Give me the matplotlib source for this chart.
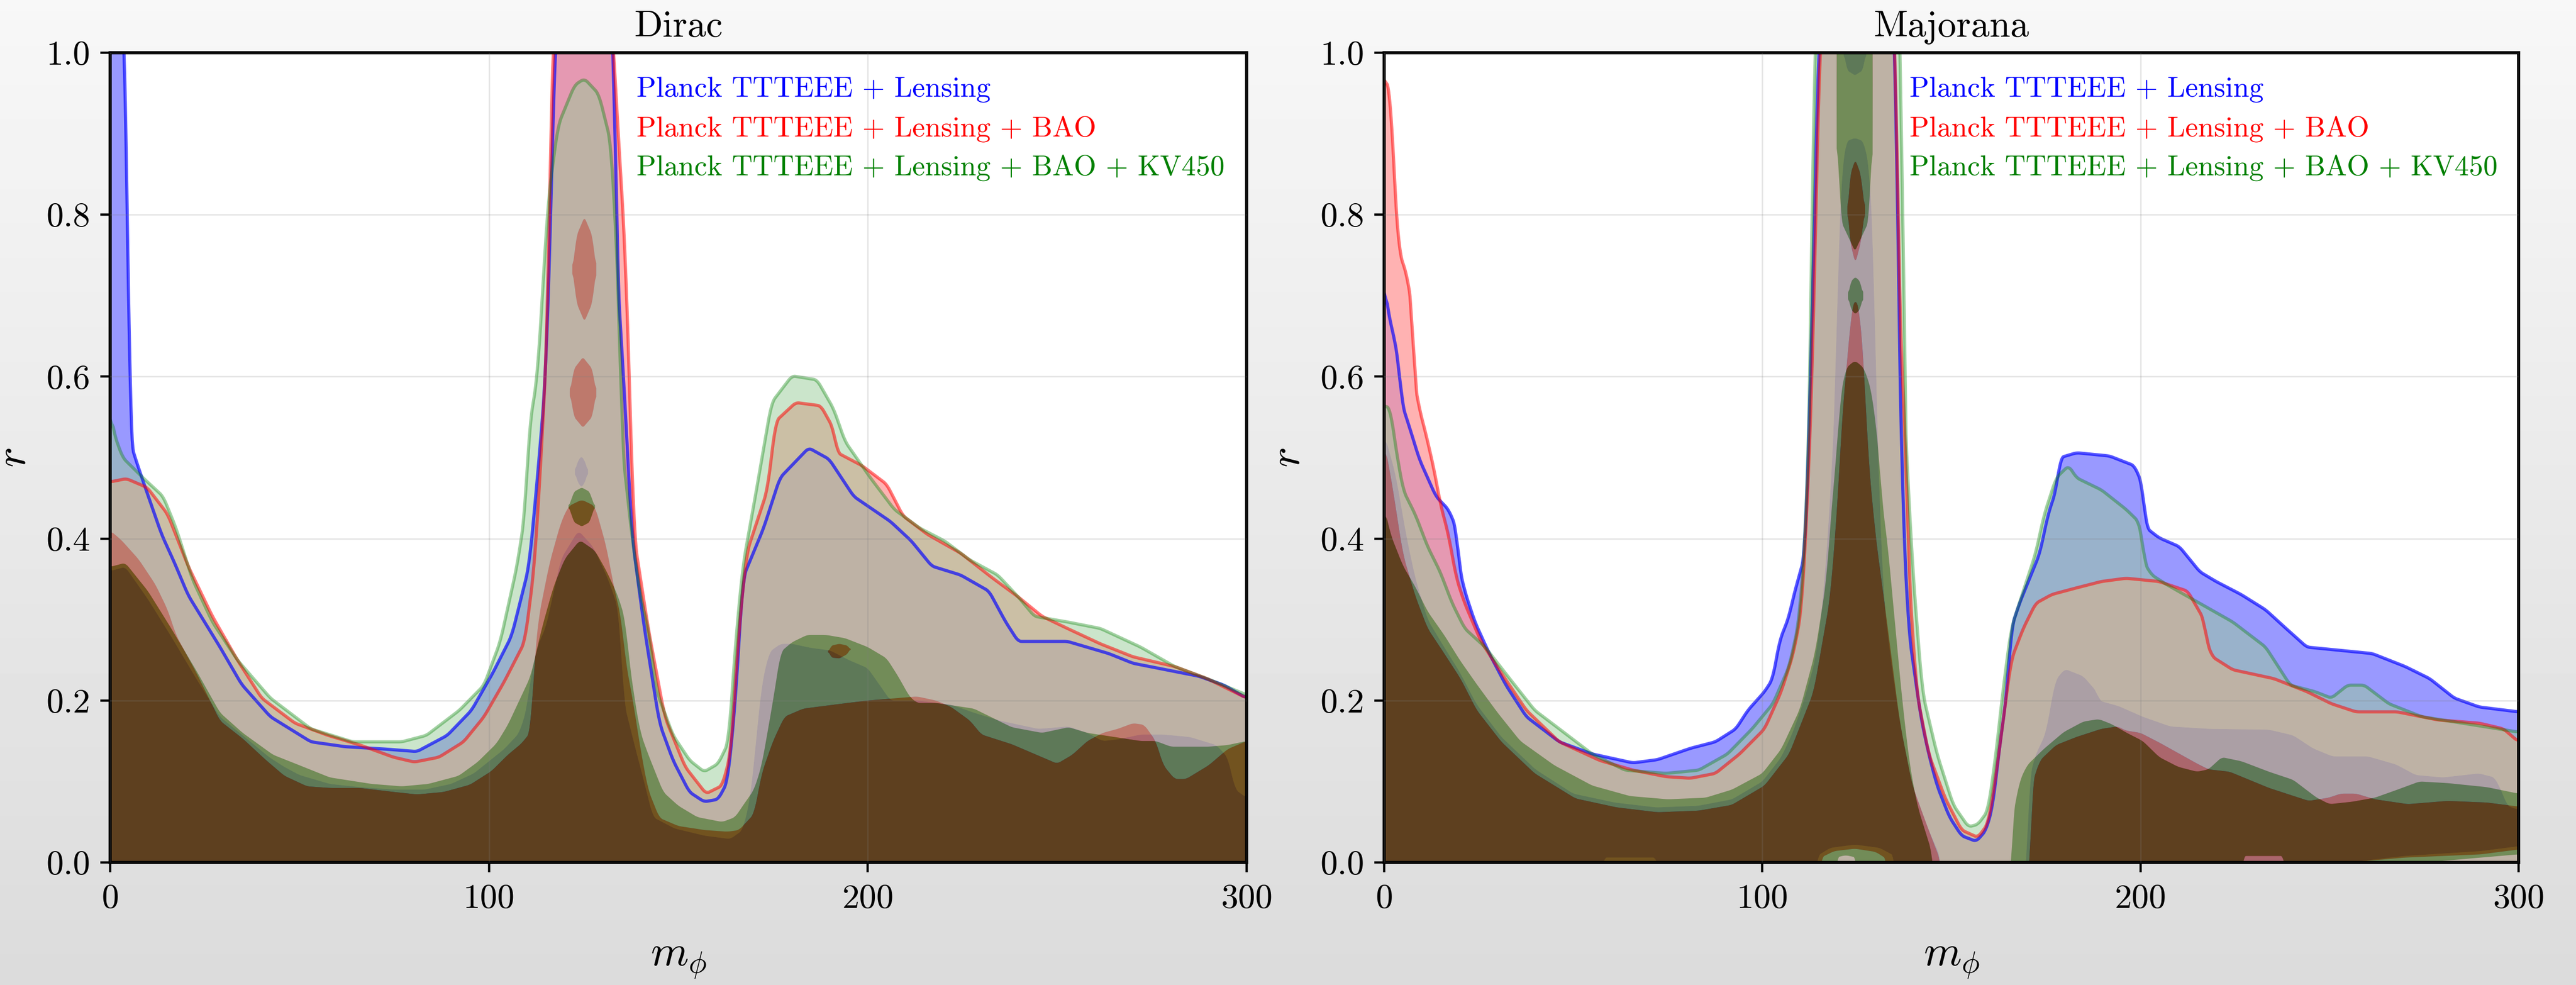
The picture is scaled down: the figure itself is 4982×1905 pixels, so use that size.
import numpy as np
import matplotlib.pyplot as plt

plt.rcParams['font.family'] = 'serif'
plt.rcParams['font.serif'] = ['cmr10']
plt.rcParams['mathtext.fontset'] = 'cm'
plt.rcParams['axes.unicode_minus'] = False

# ---------------- data ----------------
# every curve is a list of (m_phi, r) points; 2s = outer contour, 1s = inner contour
labels = ['Planck TTTEEE + Lensing',
          'Planck TTTEEE + Lensing + BAO',
          'Planck TTTEEE + Lensing + BAO + KV450']

# Dirac
dirac_blue_2s = [(0, 1.05), (3.8, 1.05), (4.6, 0.8), (5.0, 0.6), (5.3, 0.52), (6.8, 0.497), (9.5, 0.46),
                 (13.6, 0.405), (17, 0.37), (20.6, 0.33), (29, 0.266), (34.7, 0.22), (42.3, 0.18), (53, 0.149),
                 (62, 0.143), (72.7, 0.14), (81, 0.137), (89, 0.157), (95.4, 0.188), (101, 0.234), (106, 0.28),
                 (110.6, 0.366), (112.8, 0.475), (113.9, 0.537), (115, 0.6), (116.5, 0.83), (117.6, 1.05),
                 (133, 1.05), (133.6, 0.75), (136, 0.56), (137.7, 0.405), (141, 0.29), (145, 0.172), (148.6, 0.126),
                 (152.9, 0.087), (156.8, 0.075), (160.5, 0.078), (163, 0.1), (165, 0.196), (167, 0.351),
                 (172.5, 0.413), (176.8, 0.475), (184.4, 0.512), (189.8, 0.498), (196.3, 0.452), (206, 0.421),
                 (211.5, 0.397), (216.9, 0.366), (224.5, 0.355), (232, 0.335), (236.4, 0.297), (239.7, 0.273),
                 (252.7, 0.273), (263.6, 0.258), (270, 0.246), (278.7, 0.238), (287.4, 0.23), (294, 0.219),
                 (300, 0.203)]
dirac_red_2s = [(0, 0.47), (4.3, 0.474), (9.8, 0.463), (15.2, 0.43), (20.6, 0.366), (27, 0.304), (33.6, 0.25),
                (40, 0.203), (48.8, 0.172), (57.5, 0.157), (66, 0.145), (74.8, 0.13), (80.3, 0.124), (86.8, 0.13),
                (93.3, 0.149), (98.7, 0.18), (104, 0.223), (109.5, 0.273), (112, 0.366), (114, 0.52),
                (115.6, 0.677), (116, 0.83), (117, 1.05), (132.3, 1.05), (134.5, 0.87), (136, 0.755),
                (137.3, 0.56), (138.2, 0.405), (142, 0.29), (146.4, 0.18), (151.8, 0.118), (157.3, 0.085),
                (161.6, 0.095), (163.8, 0.134), (166, 0.289), (168, 0.382), (173.5, 0.46), (175.7, 0.545),
                (181, 0.568), (187.6, 0.564), (190.8, 0.537), (192, 0.506), (198.5, 0.49), (205, 0.467),
                (209.3, 0.428), (215.8, 0.405), (224.5, 0.382), (233, 0.351), (239.7, 0.328), (246, 0.304),
                (252.7, 0.289), (261.4, 0.27), (270, 0.254), (281, 0.242), (289.6, 0.227), (300, 0.203)]
dirac_green_2s = [(0, 0.56), (1, 0.53), (3.3, 0.5), (8.7, 0.475), (14, 0.452), (17.4, 0.413), (21.7, 0.35),
                  (27, 0.297), (33.6, 0.25), (42.3, 0.203), (53, 0.165), (64, 0.149), (77, 0.149), (83.5, 0.157),
                  (92.2, 0.188), (98.7, 0.219), (103, 0.273), (107.4, 0.366), (109.5, 0.43), (110.6, 0.537),
                  (112.8, 0.6), (114, 0.693), (115.6, 0.817), (118.2, 0.91), (122.6, 0.96), (125.2, 0.968),
                  (129, 0.949), (132.3, 0.887), (134.5, 0.677), (135, 0.52), (137.7, 0.405), (140, 0.328),
                  (142, 0.29), (144.3, 0.211), (148.6, 0.157), (153, 0.126), (156.8, 0.112), (160.5, 0.122),
                  (163.3, 0.149), (165, 0.266), (167, 0.366), (170.3, 0.452), (174.6, 0.568), (180, 0.601),
                  (186.6, 0.596), (191, 0.56), (194, 0.52), (200.7, 0.475), (207, 0.436), (213.7, 0.413),
                  (220.3, 0.397), (226.8, 0.374), (234.3, 0.355), (239.7, 0.328), (244, 0.304), (252.7, 0.297),
                  (261.4, 0.289), (272, 0.266), (281, 0.242), (289.6, 0.227), (300, 0.207)]

dirac_blue_1s = [(0, 0.36), (4, 0.365), (10, 0.325), (16, 0.28), (23, 0.225), (29, 0.18), (35, 0.157), (42, 0.13),
                 (46, 0.118), (50, 0.108), (58, 0.097), (66, 0.093), (75, 0.09), (83, 0.09), (90, 0.097), (96, 0.11),
                 (100, 0.125), (104, 0.14), (108, 0.16), (110, 0.19), (111, 0.23), (113, 0.27), (115, 0.29),
                 (119, 0.375), (123.6, 0.41), (127.5, 0.39), (131, 0.355), (133, 0.33), (134.3, 0.31), (135, 0.255),
                 (135.5, 0.2), (138.6, 0.142), (141, 0.099), (143.3, 0.056), (149, 0.042), (157, 0.033),
                 (163.7, 0.029), (167, 0.04), (169, 0.08), (170.5, 0.15), (172, 0.22), (174, 0.26), (177, 0.27),
                 (180, 0.27), (185, 0.265), (190, 0.262), (195, 0.25), (200, 0.24), (203, 0.22), (206, 0.2),
                 (213, 0.2), (222, 0.195), (228, 0.185), (235, 0.175), (245, 0.165), (253, 0.168), (258, 0.16),
                 (262, 0.15), (266, 0.152), (272, 0.158), (278, 0.158), (285, 0.155), (292, 0.145), (295, 0.13),
                 (297, 0.09), (300, 0.08)]
dirac_red_1s = [(0, 0.41), (3, 0.398), (7.6, 0.374), (12, 0.343), (15.2, 0.312), (17.4, 0.281), (22.8, 0.234),
                (29, 0.175), (35, 0.153), (41, 0.127), (46, 0.107), (52, 0.094), (58, 0.092), (66, 0.092),
                (75, 0.087), (81, 0.084), (88, 0.087), (95, 0.096), (100.7, 0.113), (105, 0.133), (108.6, 0.147),
                (111, 0.161), (111.5, 0.2), (112, 0.25), (113, 0.3), (116, 0.37), (119, 0.42), (121, 0.44),
                (124.5, 0.448), (128, 0.44), (131, 0.39), (133, 0.34), (135, 0.3), (136, 0.25), (138, 0.2),
                (140, 0.14), (142, 0.09), (145, 0.055), (150, 0.045), (157, 0.04), (163, 0.038), (166, 0.04),
                (168, 0.05), (170, 0.06), (172, 0.11), (175, 0.15), (178, 0.18), (183, 0.19), (193, 0.196),
                (200, 0.2), (213, 0.205), (218, 0.2), (222, 0.192), (227, 0.175), (230, 0.158), (238, 0.146),
                (246, 0.13), (250, 0.122), (254, 0.133), (258, 0.15), (262, 0.16), (266, 0.165), (270, 0.172),
                (273, 0.17), (276, 0.15), (278, 0.12), (281, 0.103), (284, 0.103), (290, 0.12), (295, 0.14),
                (300, 0.15)]
dirac_green_1s = [(0, 0.365), (4, 0.37), (10, 0.335), (16, 0.29), (23, 0.235), (29, 0.185), (35, 0.16),
                  (43, 0.133), (50, 0.12), (58, 0.105), (69, 0.097), (77, 0.094), (84, 0.097), (92, 0.107),
                  (97, 0.124), (102, 0.147), (105, 0.17), (108, 0.2), (111, 0.23), (114, 0.29), (117, 0.34),
                  (120, 0.375), (124, 0.398), (128, 0.385), (131, 0.36), (134, 0.33), (136, 0.3), (137, 0.25),
                  (138.5, 0.2), (140, 0.16), (142, 0.134), (146, 0.087), (150, 0.07), (155, 0.056), (161.6, 0.05),
                  (165, 0.056), (167, 0.07), (170, 0.09), (172, 0.12), (175, 0.2), (177, 0.26), (180, 0.272),
                  (184, 0.281), (189, 0.281), (194, 0.277), (200, 0.266), (205, 0.252), (208, 0.23), (211, 0.205),
                  (213, 0.197), (218, 0.197), (228, 0.19), (238, 0.167), (246, 0.16), (253, 0.167), (258, 0.16),
                  (265, 0.155), (272, 0.15), (276, 0.15), (280, 0.143), (290, 0.143), (295, 0.145), (300, 0.15)]

# islands: (m_phi, r_low, r_high)
dirac_blue_islands = [[(122.6, 0.483, 0.482), (123.4, 0.47, 0.495), (124.4, 0.463, 0.502), (125.4, 0.47, 0.495),
                       (126.2, 0.483, 0.482)]]
dirac_red_islands = [[(121.3, 0.581, 0.580), (122.5, 0.55, 0.61), (124.8, 0.537, 0.624), (127.2, 0.55, 0.61),
                      (128.4, 0.581, 0.580)],
                     [(122, 0.733, 0.732), (123.2, 0.69, 0.775), (125.2, 0.668, 0.797), (127.2, 0.69, 0.775),
                      (128.4, 0.733, 0.732)],
                     [(189.5, 0.261, 0.260), (190.5, 0.253, 0.268), (192.5, 0.252, 0.270), (194.5, 0.257, 0.268),
                      (195.5, 0.264, 0.263)]]
dirac_green_islands = [[(121, 0.44, 0.439), (122.5, 0.42, 0.458), (124.5, 0.415, 0.463), (126.5, 0.42, 0.458),
                        (128, 0.44, 0.439)]]

# Majorana
major_blue_2s = [(0, 0.72), (1.1, 0.677), (2.4, 0.654), (3.9, 0.615), (4.6, 0.568), (7.2, 0.53), (9.3, 0.498),
                 (11.5, 0.475), (13.7, 0.452), (17, 0.436), (19.1, 0.413), (19.8, 0.366), (21.3, 0.335),
                 (24, 0.297), (27.8, 0.258), (32.2, 0.219), (37.6, 0.18), (46.3, 0.149), (55, 0.134),
                 (65.8, 0.123), (72.3, 0.127), (81, 0.141), (87.6, 0.149), (93, 0.165), (96.2, 0.188),
                 (100.6, 0.211), (102.8, 0.227), (104.5, 0.273), (107.1, 0.304), (108.2, 0.328), (111.4, 0.382),
                 (113, 0.646), (114, 0.832), (115, 1.05), (135.3, 1.05), (135.8, 0.739), (136.4, 0.6),
                 (137.1, 0.444), (138.6, 0.289), (141.9, 0.18), (144, 0.134), (146.2, 0.095), (149.5, 0.056),
                 (152.7, 0.033), (156.6, 0.026), (159.2, 0.04), (161, 0.071), (162.5, 0.134), (164.7, 0.211),
                 (165.8, 0.289), (168, 0.32), (170, 0.343), (173.4, 0.382), (175.5, 0.429), (177.7, 0.46),
                 (178.8, 0.5), (183.1, 0.506), (191.8, 0.502), (198.4, 0.49), (200.5, 0.467), (201, 0.436),
                 (201.6, 0.413), (204.9, 0.401), (210.3, 0.39), (215.7, 0.359), (220, 0.347), (226.6, 0.331),
                 (233.1, 0.312), (238.5, 0.289), (244, 0.266), (252.7, 0.262), (261.3, 0.258), (270, 0.242),
                 (276.5, 0.227), (283, 0.203), (289.6, 0.192), (300, 0.186)]
major_red_2s = [(0, 0.972), (1.7, 0.949), (2.8, 0.832), (3.9, 0.755), (6.1, 0.724), (7.6, 0.677), (7.8, 0.6),
                (9.3, 0.56), (11, 0.53), (13.3, 0.483), (14.8, 0.444), (17, 0.405), (19.1, 0.351), (21.3, 0.32),
                (25.6, 0.273), (31, 0.234), (37.6, 0.188), (46.3, 0.149), (57, 0.126), (65.8, 0.114),
                (74.5, 0.106), (81, 0.104), (87.6, 0.11), (94, 0.134), (100.6, 0.165), (105, 0.211),
                (108.2, 0.258), (110.4, 0.312), (111.9, 0.444), (113.2, 0.6), (114.3, 0.832), (115.4, 1.05),
                (135.3, 1.05), (135.8, 0.8), (136.4, 0.65), (138, 0.522), (138.6, 0.366), (140.8, 0.211),
                (144, 0.134), (148.4, 0.079), (152.7, 0.04), (157, 0.031), (159.7, 0.048), (161.4, 0.095),
                (163.6, 0.172), (165.8, 0.25), (169, 0.289), (172.3, 0.32), (176.6, 0.331), (183, 0.339),
                (189.7, 0.347), (196.2, 0.351), (204.9, 0.347), (212.5, 0.335), (216.8, 0.3), (217.5, 0.273),
                (219, 0.254), (224.4, 0.238), (235.3, 0.227), (244, 0.211), (250.5, 0.196), (257, 0.186),
                (267.9, 0.186), (278.7, 0.176), (289.6, 0.172), (296, 0.165), (300, 0.149)]
major_green_2s = [(0, 0.565), (1.7, 0.56), (2.8, 0.52), (5, 0.46), (8.3, 0.429), (11.5, 0.39), (14.8, 0.359),
                  (18, 0.32), (21.3, 0.289), (26.7, 0.266), (33.2, 0.227), (39.8, 0.188), (46.3, 0.165),
                  (55, 0.134), (63.7, 0.114), (74.5, 0.11), (83.2, 0.114), (90.8, 0.134), (97.3, 0.165),
                  (102.8, 0.196), (107.1, 0.242), (109.7, 0.297), (111.4, 0.405), (112.5, 0.56), (113.2, 0.755),
                  (113.6, 1.05), (137, 1.05), (137.2, 0.6), (138, 0.52), (139.7, 0.366), (142.3, 0.211),
                  (146.2, 0.134), (150.5, 0.071), (154.5, 0.044), (157, 0.047), (159.7, 0.064), (161.8, 0.134),
                  (163.6, 0.211), (165.8, 0.289), (169, 0.335), (172.3, 0.382), (174.5, 0.429), (177.7, 0.475),
                  (181, 0.49), (183.1, 0.475), (189.7, 0.46), (196.2, 0.436), (199.5, 0.421), (200.5, 0.4),
                  (201, 0.37), (203, 0.355), (207, 0.343), (215.7, 0.32), (224.4, 0.297), (233.1, 0.266),
                  (239.6, 0.219), (246.1, 0.211), (250.5, 0.203), (254.8, 0.219), (259.2, 0.219), (265.7, 0.196),
                  (274.4, 0.18), (285.2, 0.172), (300, 0.161)]

major_blue_1s = [(0, 0.53), (3, 0.48), (6, 0.4), (8.3, 0.35), (11.5, 0.3), (16, 0.265), (20, 0.235),
                 (24.5, 0.195), (31, 0.155), (40, 0.115), (50, 0.085), (61, 0.074), (72, 0.068), (83, 0.07),
                 (92, 0.078), (100, 0.1), (105, 0.13), (108, 0.16), (111, 0.2), (114, 0.25), (116, 0.32),
                 (118, 0.45), (119.5, 0.6), (120, 0.75), (121, 0.85), (122, 0.89), (124.5, 0.895), (127, 0.89),
                 (128.5, 0.85), (129.5, 0.75), (130, 0.6), (131, 0.45), (132, 0.33), (134, 0.25), (136.4, 0.172),
                 (139.7, 0.095), (144, 0.04), (147.3, 0.005), (148, -0.05), (169.5, -0.05), (170.5, 0.1),
                 (172, 0.13), (175, 0.16), (176.5, 0.2), (177.5, 0.225), (180, 0.239), (184.9, 0.23),
                 (188.6, 0.21), (189, 0.2), (194.3, 0.193), (200.6, 0.18), (207.9, 0.168), (218.4, 0.165),
                 (234, 0.164), (240.4, 0.157), (245.6, 0.141), (250.8, 0.131), (260.2, 0.131), (267.6, 0.121),
                 (272.8, 0.108), (280, 0.105), (289.5, 0.11), (293.7, 0.105), (295.8, 0.085), (297, 0.07),
                 (300, 0.065)]
major_blue_1s_low = [(0, -0.1), (54, -0.1), (58, 0.006), (72, 0.006), (77, -0.1), (112, -0.1), (114.5, 0.008),
                     (118, 0.018), (124.5, 0.022), (131, 0.018), (135, 0.008), (136.5, -0.1), (245, -0.1),
                     (255, 0.0), (270, 0.008), (290, 0.014), (300, 0.02)]
major_red_1s = [(0, 0.52), (2, 0.47), (5, 0.38), (8.3, 0.328), (11.5, 0.289), (15.9, 0.258), (20.2, 0.227),
                (24.5, 0.188), (31, 0.149), (39.8, 0.11), (50.6, 0.079), (61.5, 0.068), (72.3, 0.062),
                (83.2, 0.064), (91.9, 0.071), (100.6, 0.095), (107.1, 0.134), (113.6, 0.211), (118, 0.328),
                (120, 0.45), (121.2, 0.56), (122.5, 0.62), (123.5, 0.68), (124.6, 0.70), (125.8, 0.68),
                (126.8, 0.62), (128, 0.5), (129.9, 0.405), (133.2, 0.289), (136.4, 0.172), (139.7, 0.095),
                (144, 0.04), (147.3, 0.0), (148, -0.05), (170.5, -0.05), (171.2, 0.095), (173.4, 0.126),
                (177.7, 0.145), (183.1, 0.155), (189.7, 0.165), (194, 0.168), (196, 0.163), (200, 0.16),
                (205, 0.148), (210, 0.135), (215, 0.122), (218, 0.115), (223.6, 0.112), (234, 0.092),
                (244.5, 0.076), (249.8, 0.08), (253, 0.085), (257, 0.085), (262, 0.078), (270.7, 0.072),
                (281.2, 0.076), (291.6, 0.074), (300, 0.069)]
major_red_1s_low = [(0, -0.1), (113, -0.1), (115.5, 0.006), (119, 0.014), (124.5, 0.017), (130, 0.013),
                    (133, 0.004), (134.5, -0.1), (245, -0.1), (255, 0.0), (270, 0.006), (290, 0.01), (300, 0.016)]
major_green_1s = [(0, 0.44), (1.7, 0.405), (5, 0.366), (8.3, 0.34), (11.5, 0.31), (16, 0.28), (20, 0.25),
                  (24.5, 0.22), (30, 0.185), (36, 0.15), (45, 0.12), (55, 0.095), (65, 0.082), (75, 0.078),
                  (85, 0.08), (92, 0.09), (100, 0.11), (105, 0.14), (110, 0.19), (114, 0.26), (117, 0.35),
                  (118.5, 0.45), (119.6, 0.5), (120.5, 0.57), (122, 0.61), (124.5, 0.62), (127, 0.61),
                  (129, 0.58), (131, 0.5), (131.5, 0.45), (133, 0.4), (135, 0.3), (137, 0.2), (139, 0.12),
                  (141, 0.07), (143, 0.04), (145, 0.01), (146, -0.05), (165.5, -0.05), (166, 0.05), (168, 0.1),
                  (170, 0.12), (174.4, 0.14), (179.7, 0.161), (184.9, 0.174), (189, 0.177), (192.3, 0.171),
                  (196.4, 0.16), (200.6, 0.15), (205, 0.13), (210, 0.118), (215, 0.112), (218, 0.115),
                  (221.5, 0.13), (226.7, 0.125), (234, 0.112), (240.4, 0.102), (246.6, 0.08), (250, 0.072),
                  (256, 0.075), (262, 0.08), (268, 0.09), (273.8, 0.1), (281.2, 0.098), (291.6, 0.093),
                  (300, 0.085)]
major_green_1s_low = [(0, -0.1), (118, -0.1), (119.5, 0.006), (122, 0.009), (125, 0.006), (126.5, -0.1),
                      (225, -0.1), (227, 0.008), (238, 0.008), (241, -0.1), (262, -0.1), (275, 0.0), (300, 0.01)]

major_blue_islands = [[(121.5, 1.0, 0.99), (122.5, 0.978, 1.05), (124.5, 0.972, 1.05), (126.5, 0.978, 1.05),
                       (127.5, 1.0, 0.99)]]
major_red_islands = [[(122.5, 0.81, 0.80), (123.3, 0.765, 0.85), (124.6, 0.74, 0.868), (126, 0.765, 0.85),
                      (127.3, 0.81, 0.80)]]
major_green_islands = [[(122.6, 0.70, 0.699), (123.5, 0.683, 0.718), (124.6, 0.677, 0.723), (125.8, 0.683, 0.718),
                        (126.8, 0.70, 0.699)],
                       [(119.6, 0.9, 1.05), (121, 0.79, 1.05), (124.5, 0.755, 1.05), (128, 0.79, 1.05),
                        (129.3, 0.9, 1.05)]]

# dataset styles: inner colour, outer (light) colour, alpha, line alpha
colors = [(0.0, 0.0, 1.0), (1.0, 0.0, 0.0), (0.0, 0.5, 0.0)]
tints = [(0.6, 0.6, 1.0), (1.0, 0.6, 0.6), (0.6, 0.8, 0.6)]
alphas = [1.0, 0.75, 0.5]
line_alphas = [0.66, 0.52, 0.36]

# ---------------- helpers ----------------
xg = np.linspace(0, 300, 1801)
rg = np.linspace(0, 1, 1001)
X, R = np.meshgrid(xg, rg)


def smooth(a, w=11):
    # moving average along m_phi that ignores the undefined part
    ok = ~np.isnan(a)
    k = np.ones(w) / w
    num = np.convolve(np.where(ok, a, 0.0), k, mode='same')
    den = np.convolve(ok.astype(float), k, mode='same')
    out = num / np.maximum(den, 1e-9)
    out[~ok] = np.nan
    return out


def curve_field(top, low=None):
    xt, rt = np.array(top, dtype=float).T
    h = smooth(np.interp(xg, xt, rt, left=np.nan, right=np.nan))
    if low is None:
        l = np.where(np.isnan(h), np.nan, -0.1)
    else:
        xl, rl = np.array(low, dtype=float).T
        l = smooth(np.interp(xg, xl, rl))
    return np.minimum(R - l[None, :], h[None, :] - R)


def island_field(pts):
    xi, lo, hi = np.array(pts, dtype=float).T
    l = smooth(np.interp(xg, xi, lo, left=np.nan, right=np.nan), 5)
    h = smooth(np.interp(xg, xi, hi, left=np.nan, right=np.nan), 5)
    return np.minimum(R - l[None, :], h[None, :] - R)


def combine(fields):
    f = np.full(X.shape, -1.0)
    for g in fields:
        f = np.fmax(f, g)
    return f


panels = [
    ('Dirac',
     [dirac_blue_2s, dirac_red_2s, dirac_green_2s],
     [dirac_blue_1s, dirac_red_1s, dirac_green_1s],
     [None, None, None],
     [dirac_blue_islands, dirac_red_islands, dirac_green_islands]),
    ('Majorana',
     [major_blue_2s, major_red_2s, major_green_2s],
     [major_blue_1s, major_red_1s, major_green_1s],
     [major_blue_1s_low, major_red_1s_low, major_green_1s_low],
     [major_blue_islands, major_red_islands, major_green_islands]),
]

# ---------------- figure ----------------
fig = plt.figure(figsize=(24.91, 9.525), dpi=200)
bg = fig.add_axes([0, 0, 1, 1], zorder=-10)
bg.imshow(np.linspace(0.97, 0.86, 256)[:, None], cmap='gray', vmin=0, vmax=1,
          aspect='auto', extent=[0, 1, 0, 1])
bg.axis('off')

lefts = [213 / 4982, 2677 / 4982]
widths = [2198 / 4982, 2194 / 4982]

for k, (title, outer, inner, lows, islands) in enumerate(panels):
    ax = fig.add_axes([lefts[k], 237 / 1905, widths[k], 1566 / 1905])
    ax.set_facecolor('white')
    outs = []
    for i in range(3):
        f_out = combine([curve_field(outer[i])])
        f_in = combine([curve_field(inner[i], lows[i])] + [island_field(p) for p in islands[i]])
        band = np.minimum(f_out, -f_in)
        ax.contourf(X, R, band, levels=[0, 5], colors=[tints[i]], alpha=alphas[i], antialiased=True)
        ax.contourf(X, R, f_in, levels=[0, 5], colors=[colors[i]], alpha=alphas[i], antialiased=True)
        outs.append(f_out)
    for i in range(3):
        ax.contour(X, R, outs[i], levels=[0], colors=[colors[i]], alpha=line_alphas[i], linewidths=2.2)

    ax.set_xlim(0, 300)
    ax.set_ylim(0, 1)
    ax.set_xticks([0, 100, 200, 300])
    ax.set_yticks([0, 0.2, 0.4, 0.6, 0.8, 1.0])
    ax.set_yticklabels(['%.1f' % v for v in [0, 0.2, 0.4, 0.6, 0.8, 1.0]])
    ax.set_axisbelow(False)
    ax.grid(True, color='gray', alpha=0.2, lw=1.0)
    ax.tick_params(direction='out', length=6.8, width=1.6, labelsize=24, top=False, right=False)
    ax.tick_params(axis='x', pad=8)
    ax.tick_params(axis='y', pad=7)
    for s in ax.spines.values():
        s.set_linewidth(2.2)
    ax.set_title(title, fontsize=26, pad=11)
    ax.set_xlabel(r'$m_\phi$', fontsize=30, va='center', ha='center')
    ax.set_ylabel(r'$r$', fontsize=30, va='center', ha='center')
    ax.xaxis.set_label_coords(0.5, -0.122)
    ax.yaxis.set_label_coords(-0.084, 0.5)
    for i, lab in enumerate(labels):
        ax.text(0.463, 0.954 - 0.048 * i, lab, color=colors[i], fontsize=20,
                transform=ax.transAxes, ha='left', va='center')

fig.savefig('out.png', dpi=200)
